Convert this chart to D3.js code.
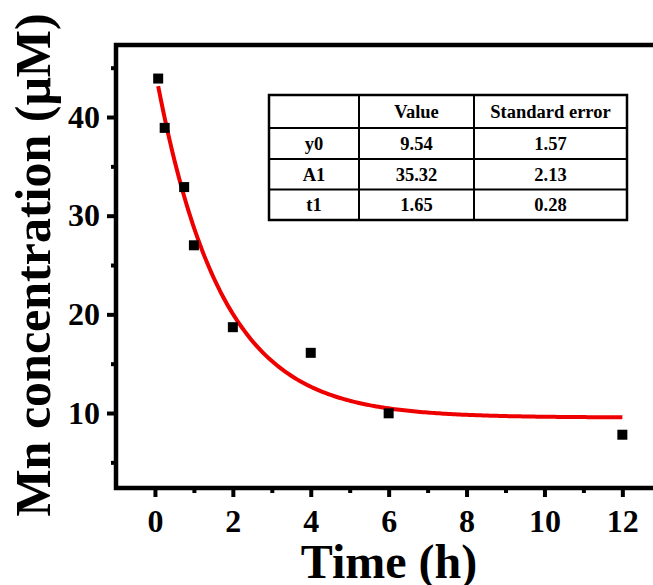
<!DOCTYPE html>
<html lang="en">
<head>
<meta charset="UTF-8">
<title>Mn concentration vs time</title>
<script src="https://d3js.org/d3.v7.min.js"></script>
<style>
  html, body { margin: 0; padding: 0; background: #fff; overflow: hidden; }
  text { font-family: "Liberation Serif", "Times New Roman", serif; font-weight: bold; fill: #000; }
</style>
</head>
<body>
<div id="chart"></div>
<script>
  // measured points
  const times = [0.083, 0.25, 0.75, 1, 2, 4, 6, 12];
  const conc = [43.9, 38.9, 32.9, 27.0, 18.7, 16.1, 9.97, 7.8];

  // fit parameters (ExpDec1: y = y0 + A1*exp(-x/t1))
  const paramNames = ["y0", "A1", "t1"];
  const paramValues = [9.54, 35.32, 1.65];
  const paramErrors = [1.57, 2.13, 0.28];
  const tableHeader = ["", "Value", "Standard error"];

  const xTicks = [0, 2, 4, 6, 8, 10, 12];
  const yTicks = [10, 20, 30, 40];

  const W = 653, H = 585;
  const frame = { left: 116, top: 45, bottom: 488 };

  const svg = d3.select("#chart").append("svg")
      .attr("width", W)
      .attr("height", H);

  const x = d3.scaleLinear().domain([-1, 13]).range([frame.left, frame.left + 14 * 38.95]);
  const y = d3.scaleLinear().domain([2.4, 47.3]).range([frame.bottom, frame.top]);

  // frame box (right side falls outside the picture)
  svg.append("rect")
      .attr("x", x(-1)).attr("y", y(47.3))
      .attr("width", x(13) - x(-1)).attr("height", y(2.4) - y(47.3))
      .attr("fill", "none").attr("stroke", "#000").attr("stroke-width", 4.5);

  // x axis
  const xAxis = svg.append("g")
      .attr("transform", `translate(0,${frame.bottom})`)
      .call(d3.axisBottom(x).tickValues(xTicks).tickSize(9).tickPadding(12).tickFormat(d3.format("d")));
  xAxis.select(".domain").remove();
  xAxis.selectAll(".tick line").attr("stroke-width", 4);
  xAxis.selectAll(".tick text").style("font-size", "32px").attr("font-family", null);

  svg.append("g")
      .attr("transform", `translate(0,${frame.bottom})`)
      .call(d3.axisBottom(x).tickValues([1, 3, 5, 7, 9, 11]).tickSize(5).tickFormat(""))
      .call(g => g.select(".domain").remove())
      .selectAll(".tick line").attr("stroke-width", 4);

  // y axis
  const yAxis = svg.append("g")
      .attr("transform", `translate(${frame.left},0)`)
      .call(d3.axisLeft(y).tickValues(yTicks).tickSize(9).tickPadding(7));
  yAxis.select(".domain").remove();
  yAxis.selectAll(".tick line").attr("stroke-width", 4);
  yAxis.selectAll(".tick text").style("font-size", "32px").attr("font-family", null);

  svg.append("g")
      .attr("transform", `translate(${frame.left},0)`)
      .call(d3.axisLeft(y).tickValues([5, 15, 25, 35, 45]).tickSize(5).tickFormat(""))
      .call(g => g.select(".domain").remove())
      .selectAll(".tick line").attr("stroke-width", 4);

  // axis titles
  svg.append("text")
      .attr("x", 389).attr("y", 578)
      .attr("text-anchor", "middle")
      .style("font-size", "48px")
      .text("Time (h)");

  svg.append("text")
      .attr("transform", "translate(50,265) rotate(-90)")
      .attr("text-anchor", "middle")
      .style("font-size", "50px")
      .text("Mn concentration (\u03bcM)");

  // fitted curve
  const [y0, A1, t1] = paramValues;
  const fit = d3.range(0, 201).map(i => {
    const t = times[0] + (12 - times[0]) * i / 200;
    return [t, y0 + A1 * Math.exp(-t / t1)];
  });
  svg.append("path")
      .datum(fit)
      .attr("fill", "none")
      .attr("stroke", "#ee0000")
      .attr("stroke-width", 4)
      .attr("d", d3.line().x(d => x(d[0])).y(d => y(d[1])));

  // points
  svg.selectAll("rect.pt")
    .data(times.map((t, i) => [t, conc[i]]))
    .join("rect")
      .attr("class", "pt")
      .attr("x", d => x(d[0]) - 5)
      .attr("y", d => y(d[1]) - 5)
      .attr("width", 10).attr("height", 10)
      .attr("fill", "#000");

  // parameter table
  const colX = [269, 359, 474, 627];
  const rowY = [95, 128, 159, 189.5, 220];
  const rows = [tableHeader].concat(paramNames.map((n, i) => [n, paramValues[i].toFixed(2), paramErrors[i].toFixed(2)]));

  const tbl = svg.append("g");
  tbl.append("rect")
      .attr("x", colX[0]).attr("y", rowY[0])
      .attr("width", colX[3] - colX[0]).attr("height", rowY[4] - rowY[0])
      .attr("fill", "#fff").attr("stroke", "#000").attr("stroke-width", 2.5);
  tbl.selectAll("line.h").data(rowY.slice(1, 4)).join("line")
      .attr("x1", colX[0]).attr("x2", colX[3])
      .attr("y1", d => d).attr("y2", d => d)
      .attr("stroke", "#000").attr("stroke-width", 2);
  tbl.selectAll("line.v").data(colX.slice(1, 3)).join("line")
      .attr("x1", d => d).attr("x2", d => d)
      .attr("y1", rowY[0]).attr("y2", rowY[4])
      .attr("stroke", "#000").attr("stroke-width", 2);

  rows.forEach((r, ri) => {
    r.forEach((cell, ci) => {
      tbl.append("text")
          .attr("x", (colX[ci] + colX[ci + 1]) / 2)
          .attr("y", (rowY[ri] + rowY[ri + 1]) / 2)
          .attr("dy", "0.35em")
          .attr("text-anchor", "middle")
          .style("font-size", "18.5px")
          .text(cell);
    });
  });
</script>
</body>
</html>
